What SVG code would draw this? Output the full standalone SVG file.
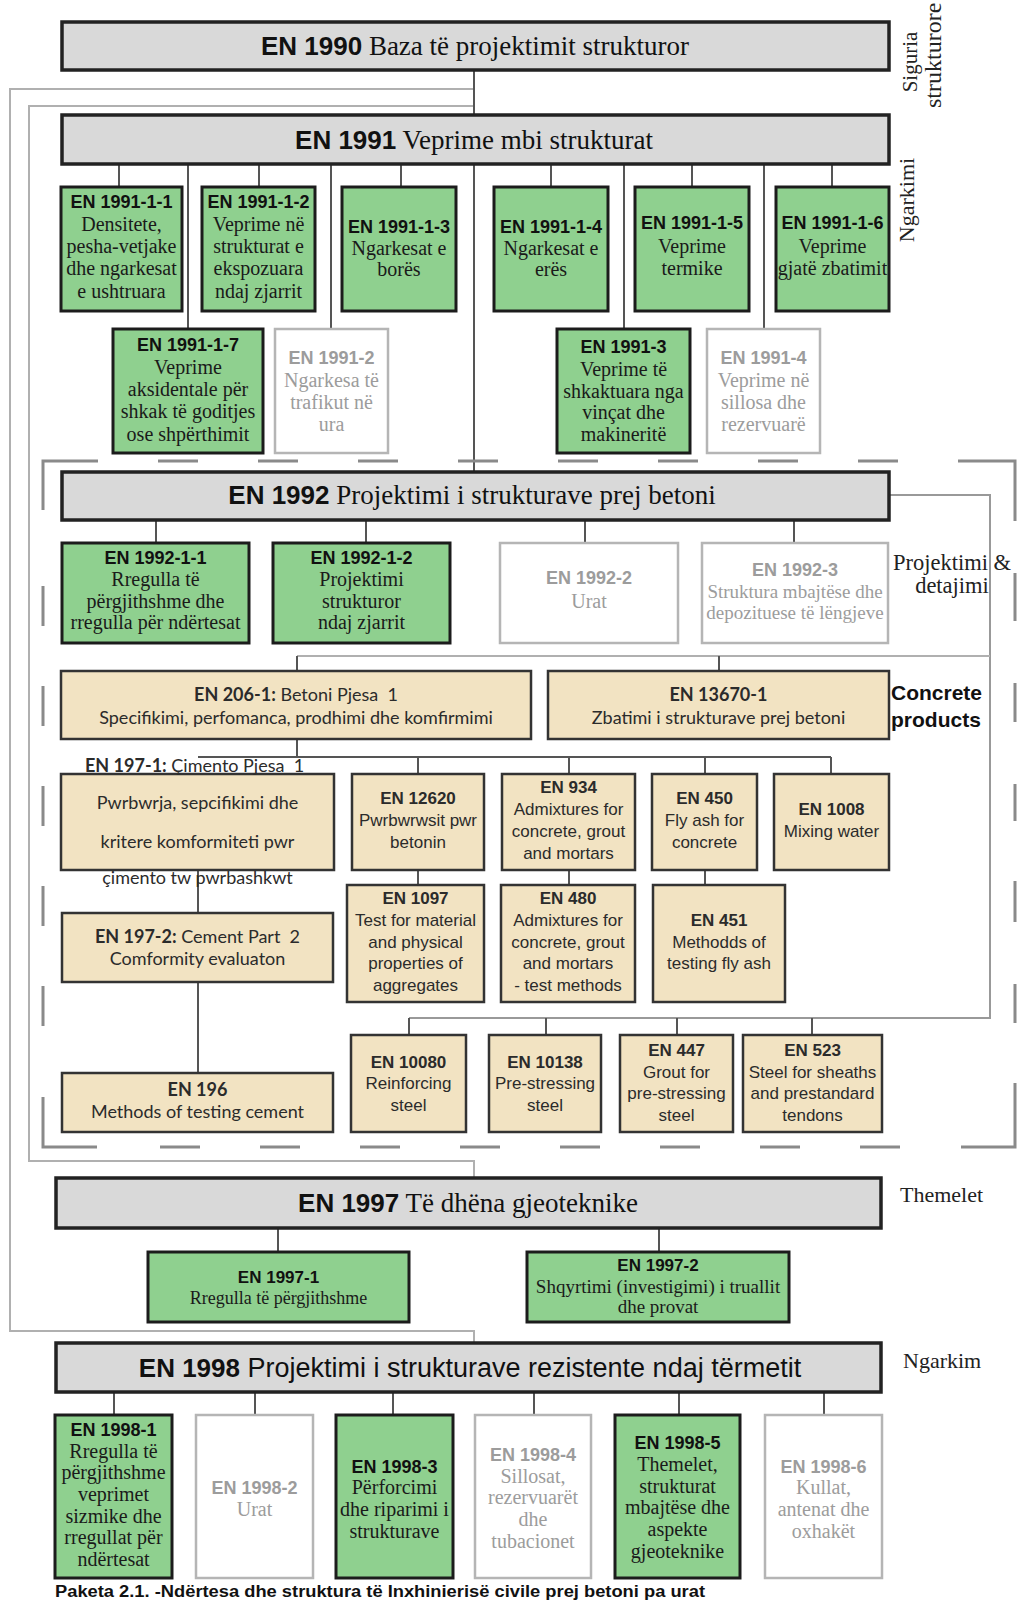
<svg xmlns="http://www.w3.org/2000/svg" width="1019" height="1603" viewBox="0 0 1019 1603">
<style>
.tbox{fill:#d9d9d9;stroke:#222;stroke-width:3.5}
.gbox{fill:#8fd08f;stroke:#1c1c1c;stroke-width:3}
.bbox{fill:#f2e3c2;stroke:#333;stroke-width:2.5}
.wbox{fill:#fff;stroke:#b5b5b5;stroke-width:2.5}
.ln{stroke:#555;stroke-width:2;fill:none}
.lo{stroke:#b0b0b0;stroke-width:2;fill:none}
.lm{stroke:#999;stroke-width:2;fill:none}
.dash{stroke:#8a8a8a;stroke-width:3;fill:none}
text{text-anchor:middle}
.st{text-anchor:start}
.pre{white-space:pre}
.ttl{font-family:"Liberation Serif","Times New Roman",serif;font-size:27px;fill:#111}
.ttb{font-family:"Liberation Sans",Arial,sans-serif;font-weight:bold;font-size:26px}
.tts{font-family:"Liberation Sans",Arial,sans-serif;font-size:27px;fill:#111}
.hd{font-family:"Liberation Sans",Arial,sans-serif;font-weight:bold;font-size:18px;fill:#111}
.sr{font-family:"Liberation Serif","Times New Roman",serif;font-size:20px;fill:#1a1a1a}
.gr{fill:#9c9c9c}
.lt{font-family:Lato,"Open Sans",sans-serif;font-size:18px;fill:#2b2b2b}
.ar{font-family:"Liberation Sans",Arial,sans-serif;font-size:17px;fill:#2b2b2b}
.b{font-weight:bold}
.side{font-family:"Liberation Serif","Times New Roman",serif;font-size:22px;fill:#222}
.cp{font-family:"Liberation Sans",Arial,sans-serif;font-weight:bold;font-size:21px;fill:#111}
.cap{font-family:"Liberation Sans",Arial,sans-serif;font-weight:bold;font-size:16px;fill:#111}
</style>

<!-- connectors -->
<g id="connectors">
  <path class="lo" d="M474,89 H10 V1331 H474 V1343"/>
  <path class="lo" d="M474,106 H29 V1161 H474 V1178"/>
  <path class="ln" d="M474,70 V115"/>
  <path class="ln" d="M119,164 V187 M259,164 V187 M401,164 V187 M551,164 V187 M692,164 V187 M832,164 V187"/>
  <path class="ln" d="M188,164 V329 M331,164 V329 M624,164 V329 M764,164 V329 M474,164 V472"/>
  <path class="ln" d="M156,520 V543 M366,520 V543 M585,520 V543 M794,520 V543"/>
  <path class="lm" d="M889,495 H990 V1018 H409"/>
  <path class="lo" d="M297,656 H990"/>
  <path class="ln" d="M297,656 V671 M719,656 V671"/>
  <path class="ln" d="M297,739 V757 M198,757 H831 M418,757 V774 M569,757 V774 M705,757 V774 M831,757 V774"/>
  <path class="ln" d="M418,870 V885 M569,870 V885 M705,870 V885"/>
  <path class="ln" d="M198,870 V913 M198,982 V1073"/>
  <path class="ln" d="M409,1018 V1035 M546,1018 V1035 M677,1018 V1035 M812,1018 V1035"/>
  <path class="ln" d="M278,1228 V1252 M659,1228 V1252"/>
  <path class="ln" d="M114,1392 V1415 M255,1392 V1415 M393,1392 V1415 M534,1392 V1415 M679,1392 V1415 M824,1392 V1415"/>
</g>

<!-- dashed frame around EN 1992 -->
<g id="frame-1992">
  <path class="dash" d="M43,510 V461 H98 M158,461 H198 M258,461 H298 M358,461 H398 M458,461 H498 M558,461 H598 M658,461 H698 M758,461 H798 M858,461 H898 M958,461 H1015 V521"/>
  <path class="dash" d="M1015,573 V621 M1015,683 V722 M1015,784 V821 M1015,881 V922 M1015,984 V1023 M1015,1083 V1147 H961"/>
  <path class="dash" d="M860,1147 H900 M760,1147 H800 M660,1147 H700 M560,1147 H600 M460,1147 H500 M360,1147 H400 M260,1147 H300 M160,1147 H200 M97,1147 H43 V1097"/>
  <path class="dash" d="M43,986 V1026 M43,886 V926 M43,786 V826 M43,686 V726 M43,586 V626"/>
</g>

<!-- side labels -->
<g id="labels">
  <text class="side" style="font-size:21px" transform="translate(917,62) rotate(-90)">Siguria</text>
  <text class="side st" style="font-size:24px" transform="translate(941,108) rotate(-90)">strukturore</text>
  <text class="side" transform="translate(914,200) rotate(-90)">Ngarkimi</text>
  <text class="side" x="952" y="570" style="font-size:22.5px">Projektimi &amp;</text>
  <text class="side" x="952" y="593" style="font-size:22.5px">detajimi</text>
  <text class="cp st" x="891" y="700">Concrete</text>
  <text class="cp st" x="891" y="727">products</text>
  <text class="side st" x="900" y="1202">Themelet</text>
  <text class="side st" x="903" y="1368">Ngarkim</text>
</g>

<g id="en1990">
  <rect class="tbox" x="62" y="22" width="827" height="48"/>
  <text class="ttl" x="475" y="55"><tspan class="ttb">EN 1990</tspan> Baza të projektimit strukturor</text>
</g>

<g id="en1991">
  <rect class="tbox" x="62" y="115" width="827" height="49"/>
  <text class="ttl" x="474" y="149"><tspan class="ttb">EN 1991</tspan> Veprime mbi strukturat</text>
</g>
<g id="en1991-1-1">
  <rect class="gbox" x="61" y="187" width="121" height="124"/>
  <text class="hd" x="121.5" y="208">EN 1991-1-1</text>
  <text class="sr" x="121.5" y="231">Densitete,</text>
  <text class="sr" x="121.5" y="253">pesha-vetjake</text>
  <text class="sr" x="121.5" y="275">dhe ngarkesat</text>
  <text class="sr" x="121.5" y="298">e ushtruara</text>
</g>
<g id="en1991-1-2">
  <rect class="gbox" x="202" y="187" width="113" height="124"/>
  <text class="hd" x="258.5" y="208">EN 1991-1-2</text>
  <text class="sr" x="258.5" y="231">Veprime në</text>
  <text class="sr" x="258.5" y="253">strukturat e</text>
  <text class="sr" x="258.5" y="275">ekspozuara</text>
  <text class="sr" x="258.5" y="298">ndaj zjarrit</text>
</g>
<g id="en1991-1-3">
  <rect class="gbox" x="342" y="187" width="114" height="124"/>
  <text class="hd" x="399" y="233">EN 1991-1-3</text>
  <text class="sr" x="399" y="255">Ngarkesat e</text>
  <text class="sr" x="399" y="276">borës</text>
</g>
<g id="en1991-1-4">
  <rect class="gbox" x="494" y="187" width="114" height="124"/>
  <text class="hd" x="551" y="233">EN 1991-1-4</text>
  <text class="sr" x="551" y="255">Ngarkesat e</text>
  <text class="sr" x="551" y="276">erës</text>
</g>
<g id="en1991-1-5">
  <rect class="gbox" x="635" y="187" width="114" height="124"/>
  <text class="hd" x="692" y="229">EN 1991-1-5</text>
  <text class="sr" x="692" y="253">Veprime</text>
  <text class="sr" x="692" y="275">termike</text>
</g>
<g id="en1991-1-6">
  <rect class="gbox" x="776" y="187" width="113" height="124"/>
  <text class="hd" x="832.5" y="229">EN 1991-1-6</text>
  <text class="sr" x="832.5" y="253">Veprime</text>
  <text class="sr" x="832.5" y="275">gjatë zbatimit</text>
</g>
<g id="en1991-1-7">
  <rect class="gbox" x="113" y="329" width="150" height="124"/>
  <text class="hd" x="188" y="351">EN 1991-1-7</text>
  <text class="sr" x="188" y="374">Veprime</text>
  <text class="sr" x="188" y="396">aksidentale për</text>
  <text class="sr" x="188" y="418">shkak të goditjes</text>
  <text class="sr" x="188" y="441">ose shpërthimit</text>
</g>
<g id="en1991-2">
  <rect class="wbox" x="275" y="329" width="113" height="124"/>
  <text class="hd gr" x="331.5" y="364">EN 1991-2</text>
  <text class="sr gr" x="331.5" y="387">Ngarkesa të</text>
  <text class="sr gr" x="331.5" y="409">trafikut në</text>
  <text class="sr gr" x="331.5" y="431">ura</text>
</g>
<g id="en1991-3">
  <rect class="gbox" x="557" y="329" width="133" height="124"/>
  <text class="hd" x="623.5" y="353">EN 1991-3</text>
  <text class="sr" x="623.5" y="376">Veprime të</text>
  <text class="sr" x="623.5" y="398">shkaktuara nga</text>
  <text class="sr" x="623.5" y="419">vinçat dhe</text>
  <text class="sr" x="623.5" y="441">makineritë</text>
</g>
<g id="en1991-4">
  <rect class="wbox" x="707" y="329" width="113" height="124"/>
  <text class="hd gr" x="763.5" y="364">EN 1991-4</text>
  <text class="sr gr" x="763.5" y="387">Veprime në</text>
  <text class="sr gr" x="763.5" y="409">sillosa dhe</text>
  <text class="sr gr" x="763.5" y="431">rezervuarë</text>
</g>

<g id="en1992">
  <rect class="tbox" x="62" y="472" width="827" height="48"/>
  <text class="ttl" x="472" y="504"><tspan class="ttb">EN 1992</tspan> Projektimi i strukturave prej betoni</text>
</g>
<g id="en1992-1-1">
  <rect class="gbox" x="62" y="543" width="187" height="100"/>
  <text class="hd" x="155.5" y="564">EN 1992-1-1</text>
  <text class="sr" x="155.5" y="586">Rregulla të</text>
  <text class="sr" x="155.5" y="608">përgjithshme dhe</text>
  <text class="sr" x="155.5" y="629">rregulla për ndërtesat</text>
</g>
<g id="en1992-1-2">
  <rect class="gbox" x="273" y="543" width="177" height="100"/>
  <text class="hd" x="361.5" y="564">EN 1992-1-2</text>
  <text class="sr" x="361.5" y="586">Projektimi</text>
  <text class="sr" x="361.5" y="608">strukturor</text>
  <text class="sr" x="361.5" y="629">ndaj zjarrit</text>
</g>
<g id="en1992-2">
  <rect class="wbox" x="500" y="543" width="178" height="100"/>
  <text class="hd gr" x="589" y="584">EN 1992-2</text>
  <text class="sr gr" x="589" y="608">Urat</text>
</g>
<g id="en1992-3">
  <rect class="wbox" x="702" y="543" width="186" height="100"/>
  <text class="hd gr" x="795" y="576">EN 1992-3</text>
  <text class="sr gr" x="795" y="598" style="font-size:19px">Struktura mbajtëse dhe</text>
  <text class="sr gr" x="795" y="619" style="font-size:19px">depozituese të lëngjeve</text>
</g>

<g id="en206-1">
  <rect class="bbox" x="61" y="671" width="470" height="68"/>
  <text class="lt pre" x="296" y="701"><tspan class="b">EN 206-1:</tspan> Betoni Pjesa  1</text>
  <text class="lt" x="296" y="724">Specifikimi, perfomanca, prodhimi dhe komfirmimi</text>
</g>
<g id="en13670-1">
  <rect class="bbox" x="548" y="671" width="341" height="68"/>
  <text class="lt b" x="718.5" y="701">EN 13670-1</text>
  <text class="lt" x="718.5" y="724">Zbatimi i strukturave prej betoni</text>
</g>
<g id="en197-1">
  <rect class="bbox" x="61" y="774" width="273" height="96"/>
  <text class="lt st pre" x="85" y="772"><tspan class="b">EN 197-1:</tspan> Çimento Pjesa  1</text>
  <text class="lt" x="197.5" y="809">Pwrbwrja, sepcifikimi dhe</text>
  <text class="lt" x="197.5" y="848">kritere komformiteti pwr</text>
  <text class="lt" x="197.5" y="884">çimento tw pwrbashkwt</text>
</g>
<g id="en12620">
  <rect class="bbox" x="352" y="774" width="132" height="96"/>
  <text class="ar b" x="418" y="804">EN 12620</text>
  <text class="ar" x="418" y="826">Pwrbwrwsit pwr</text>
  <text class="ar" x="418" y="848">betonin</text>
</g>
<g id="en934">
  <rect class="bbox" x="502" y="774" width="133" height="96"/>
  <text class="ar b" x="568.5" y="793">EN 934</text>
  <text class="ar" x="568.5" y="815">Admixtures for</text>
  <text class="ar" x="568.5" y="837">concrete, grout</text>
  <text class="ar" x="568.5" y="859">and mortars</text>
</g>
<g id="en450">
  <rect class="bbox" x="652" y="774" width="105" height="96"/>
  <text class="ar b" x="704.5" y="804">EN 450</text>
  <text class="ar" x="704.5" y="826">Fly ash for</text>
  <text class="ar" x="704.5" y="848">concrete</text>
</g>
<g id="en1008">
  <rect class="bbox" x="774" y="774" width="115" height="96"/>
  <text class="ar b" x="831.5" y="815">EN 1008</text>
  <text class="ar" x="831.5" y="837">Mixing water</text>
</g>
<g id="en197-2">
  <rect class="bbox" x="62" y="913" width="271" height="69"/>
  <text class="lt pre" x="197.5" y="943"><tspan class="b">EN 197-2:</tspan> Cement Part  2</text>
  <text class="lt" x="197.5" y="965">Comformity evaluaton</text>
</g>
<g id="en1097">
  <rect class="bbox" x="347" y="885" width="137" height="117"/>
  <text class="ar b" x="415.5" y="904">EN 1097</text>
  <text class="ar" x="415.5" y="926">Test for material</text>
  <text class="ar" x="415.5" y="948">and physical</text>
  <text class="ar" x="415.5" y="969">properties of</text>
  <text class="ar" x="415.5" y="991">aggregates</text>
</g>
<g id="en480">
  <rect class="bbox" x="501" y="885" width="134" height="117"/>
  <text class="ar b" x="568" y="904">EN 480</text>
  <text class="ar" x="568" y="926">Admixtures for</text>
  <text class="ar" x="568" y="948">concrete, grout</text>
  <text class="ar" x="568" y="969">and mortars</text>
  <text class="ar" x="568" y="991">- test methods</text>
</g>
<g id="en451">
  <rect class="bbox" x="653" y="885" width="132" height="117"/>
  <text class="ar b" x="719" y="926">EN 451</text>
  <text class="ar" x="719" y="948">Methodds of</text>
  <text class="ar" x="719" y="969">testing fly ash</text>
</g>
<g id="en196">
  <rect class="bbox" x="62" y="1073" width="271" height="59"/>
  <text class="lt b" x="197.5" y="1096">EN 196</text>
  <text class="lt" x="197.5" y="1118">Methods of testing cement</text>
</g>
<g id="en10080">
  <rect class="bbox" x="351" y="1035" width="115" height="97"/>
  <text class="ar b" x="408.5" y="1068">EN 10080</text>
  <text class="ar" x="408.5" y="1089">Reinforcing</text>
  <text class="ar" x="408.5" y="1111">steel</text>
</g>
<g id="en10138">
  <rect class="bbox" x="489" y="1035" width="112" height="97"/>
  <text class="ar b" x="545" y="1068">EN 10138</text>
  <text class="ar" x="545" y="1089">Pre-stressing</text>
  <text class="ar" x="545" y="1111">steel</text>
</g>
<g id="en447">
  <rect class="bbox" x="620" y="1035" width="113" height="97"/>
  <text class="ar b" x="676.5" y="1056">EN 447</text>
  <text class="ar" x="676.5" y="1078">Grout for</text>
  <text class="ar" x="676.5" y="1099">pre-stressing</text>
  <text class="ar" x="676.5" y="1121">steel</text>
</g>
<g id="en523">
  <rect class="bbox" x="743" y="1035" width="139" height="97"/>
  <text class="ar b" x="812.5" y="1056">EN 523</text>
  <text class="ar" x="812.5" y="1078">Steel for sheaths</text>
  <text class="ar" x="812.5" y="1099">and prestandard</text>
  <text class="ar" x="812.5" y="1121">tendons</text>
</g>

<g id="en1997">
  <rect class="tbox" x="56" y="1178" width="825" height="50"/>
  <text class="ttl" x="468" y="1212"><tspan class="ttb">EN 1997</tspan> Të dhëna gjeoteknike</text>
</g>
<g id="en1997-1">
  <rect class="gbox" x="148" y="1252" width="261" height="70"/>
  <text class="hd" x="278.5" y="1283" style="font-size:17px">EN 1997-1</text>
  <text class="sr" x="278.5" y="1304" style="font-size:18px">Rregulla të përgjithshme</text>
</g>
<g id="en1997-2">
  <rect class="gbox" x="527" y="1252" width="262" height="70"/>
  <text class="hd" x="658" y="1271" style="font-size:17px">EN 1997-2</text>
  <text class="sr" x="658" y="1293" style="font-size:19px">Shqyrtimi (investigimi) i truallit</text>
  <text class="sr" x="658" y="1313" style="font-size:19px">dhe provat</text>
</g>

<g id="en1998">
  <rect class="tbox" x="56" y="1343" width="825" height="49"/>
  <text class="tts" x="470" y="1377"><tspan class="ttb">EN 1998</tspan> Projektimi i strukturave rezistente ndaj tërmetit</text>
</g>
<g id="en1998-1">
  <rect class="gbox" x="55" y="1415" width="117" height="163"/>
  <text class="hd" x="113.5" y="1436">EN 1998-1</text>
  <text class="sr" x="113.5" y="1458">Rregulla të</text>
  <text class="sr" x="113.5" y="1479">përgjithshme</text>
  <text class="sr" x="113.5" y="1501">veprimet</text>
  <text class="sr" x="113.5" y="1523">sizmike dhe</text>
  <text class="sr" x="113.5" y="1544">rregullat për</text>
  <text class="sr" x="113.5" y="1566">ndërtesat</text>
</g>
<g id="en1998-2">
  <rect class="wbox" x="196" y="1415" width="117" height="163"/>
  <text class="hd gr" x="254.5" y="1494">EN 1998-2</text>
  <text class="sr gr" x="254.5" y="1516">Urat</text>
</g>
<g id="en1998-3">
  <rect class="gbox" x="336" y="1415" width="117" height="163"/>
  <text class="hd" x="394.5" y="1473">EN 1998-3</text>
  <text class="sr" x="394.5" y="1494">Përforcimi</text>
  <text class="sr" x="394.5" y="1516">dhe riparimi i</text>
  <text class="sr" x="394.5" y="1538">strukturave</text>
</g>
<g id="en1998-4">
  <rect class="wbox" x="475" y="1415" width="116" height="163"/>
  <text class="hd gr" x="533" y="1461">EN 1998-4</text>
  <text class="sr gr" x="533" y="1483">Sillosat,</text>
  <text class="sr gr" x="533" y="1504">rezervuarët</text>
  <text class="sr gr" x="533" y="1526">dhe</text>
  <text class="sr gr" x="533" y="1548">tubacionet</text>
</g>
<g id="en1998-5">
  <rect class="gbox" x="615" y="1415" width="125" height="163"/>
  <text class="hd" x="677.5" y="1449">EN 1998-5</text>
  <text class="sr" x="677.5" y="1471">Themelet,</text>
  <text class="sr" x="677.5" y="1493">strukturat</text>
  <text class="sr" x="677.5" y="1514">mbajtëse dhe</text>
  <text class="sr" x="677.5" y="1536">aspekte</text>
  <text class="sr" x="677.5" y="1558">gjeoteknike</text>
</g>
<g id="en1998-6">
  <rect class="wbox" x="765" y="1415" width="117" height="163"/>
  <text class="hd gr" x="823.5" y="1473">EN 1998-6</text>
  <text class="sr gr" x="823.5" y="1494">Kullat,</text>
  <text class="sr gr" x="823.5" y="1516">antenat dhe</text>
  <text class="sr gr" x="823.5" y="1538">oxhakët</text>
</g>

<text class="cap st" x="55" y="1597" textLength="650" lengthAdjust="spacingAndGlyphs">Paketa 2.1. -Ndërtesa dhe struktura të Inxhinierisë civile prej betoni pa urat</text>
</svg>
